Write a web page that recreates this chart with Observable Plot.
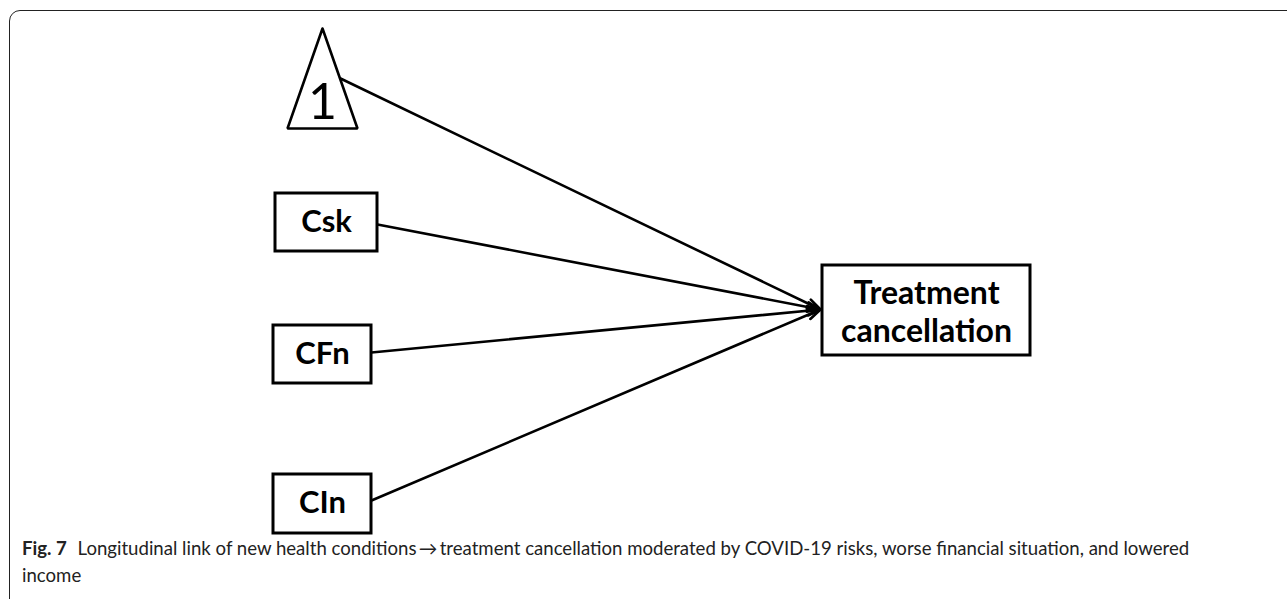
<!DOCTYPE html>
<html>
<head>
<meta charset="utf-8">
<script src="https://cdn.jsdelivr.net/npm/d3@7"></script>
<script src="https://cdn.jsdelivr.net/npm/@observablehq/plot@0.6"></script>
<style>
  html, body { margin: 0; padding: 0; background: #fff; overflow: hidden; width: 1287px; height: 599px; }
  #wrap { position: relative; width: 1287px; height: 599px; }
  #frame { position: absolute; left: 9px; top: 10px; width: 1400px; height: 640px;
           border: 1.5px solid #222; border-radius: 11px; pointer-events: none; box-sizing: border-box; }
  #chart svg { display: block; }
  #caption { font-family: Lato, "Open Sans", sans-serif; font-size: 18.6px; line-height: 27px;
             color: #222; padding-left: 22px; width: 1240px; }
  #caption b { font-weight: 700; margin-right: 6px; }
</style>
</head>
<body>
<div id="wrap">
  <div id="chart"></div>
  <div id="caption"></div>
  <div id="frame"></div>
</div>
<script>
// Diagram nodes (diagram units)
const boxNames = ["Csk", "CFn", "CIn", "Treatment cancellation"];
const boxLeft   = [275, 273, 273, 822];
const boxRight  = [377, 371, 371, 1030];
const boxTop    = [193, 325, 474, 265];
const boxBottom = [251, 383, 533, 355];

const labelText = ["Csk", "CFn", "CIn", "Treatment", "cancellation"];
const labelX    = [326, 322, 322, 926, 926];
const labelY    = [222, 354, 503, 293, 331];

const triangleX = [322, 287, 357, 322];
const triangleY = [28, 128, 128, 28];
const triangleLabel = "1";

const edgeFrom = ["1", "Csk", "CFn", "CIn"];
const edgeX1 = [340, 377, 371, 371];
const edgeY1 = [78, 224, 352, 500];
const edgeX2 = [820, 820, 820, 820];
const edgeY2 = [309, 309, 309, 309];

const captionBold = "Fig. 7";
const captionLine1 = "Longitudinal link of new health conditions\u2009\u2192\u2009treatment cancellation moderated by COVID-19 risks, worse financial situation, and lowered";
const captionLine2 = "income";

const W = 1287, H = 535;
const boxes = boxNames.map((n, i) => ({n, x1: boxLeft[i], x2: boxRight[i], y1: boxTop[i], y2: boxBottom[i]}));
const labels = labelText.map((t, i) => ({t, x: labelX[i], y: labelY[i], big: i >= 3}));
const tri = triangleX.map((x, i) => ({x, y: triangleY[i]}));
const edges = edgeFrom.map((f, i) => ({f, x1: edgeX1[i], y1: edgeY1[i], x2: edgeX2[i], y2: edgeY2[i]}));

const chart = Plot.plot({
  width: W, height: H, margin: 0,
  x: {domain: [0, W], range: [0, W], axis: null},
  y: {domain: [0, H], range: [0, H], axis: null},
  marks: [
    Plot.arrow(edges, {x1: "x1", y1: "y1", x2: "x2", y2: "y2", stroke: "#000", strokeWidth: 2.6,
      headLength: 8, headAngle: 40, insetStart: 0, insetEnd: 0}),
    Plot.rect(boxes, {x1: "x1", x2: "x2", y1: "y1", y2: "y2", fill: "#fff", stroke: "#000", strokeWidth: 3}),
    Plot.line(tri, {x: "x", y: "y", stroke: "#000", strokeWidth: 2.6, strokeLinejoin: "miter"}),
    Plot.text([triangleLabel], {x: [322], y: [102], text: d => d, fontSize: 50, fontFamily: "Lato", fill: "#000"}),
    Plot.text(labels.filter(d => !d.big), {x: "x", y: "y", text: "t", fontSize: 31, fontWeight: "bold", fontFamily: "Lato", fill: "#000"}),
    Plot.text(labels.filter(d => d.big), {x: "x", y: "y", text: "t", fontSize: 32, fontWeight: "bold", fontFamily: "Lato", fill: "#000"})
  ]
});
document.getElementById("chart").appendChild(chart);
const cap = document.getElementById("caption");
const b = document.createElement("b"); b.textContent = captionBold;
cap.appendChild(b);
cap.appendChild(document.createTextNode(" " + captionLine1));
cap.appendChild(document.createElement("br"));
cap.appendChild(document.createTextNode(captionLine2));
</script>
</body>
</html>
